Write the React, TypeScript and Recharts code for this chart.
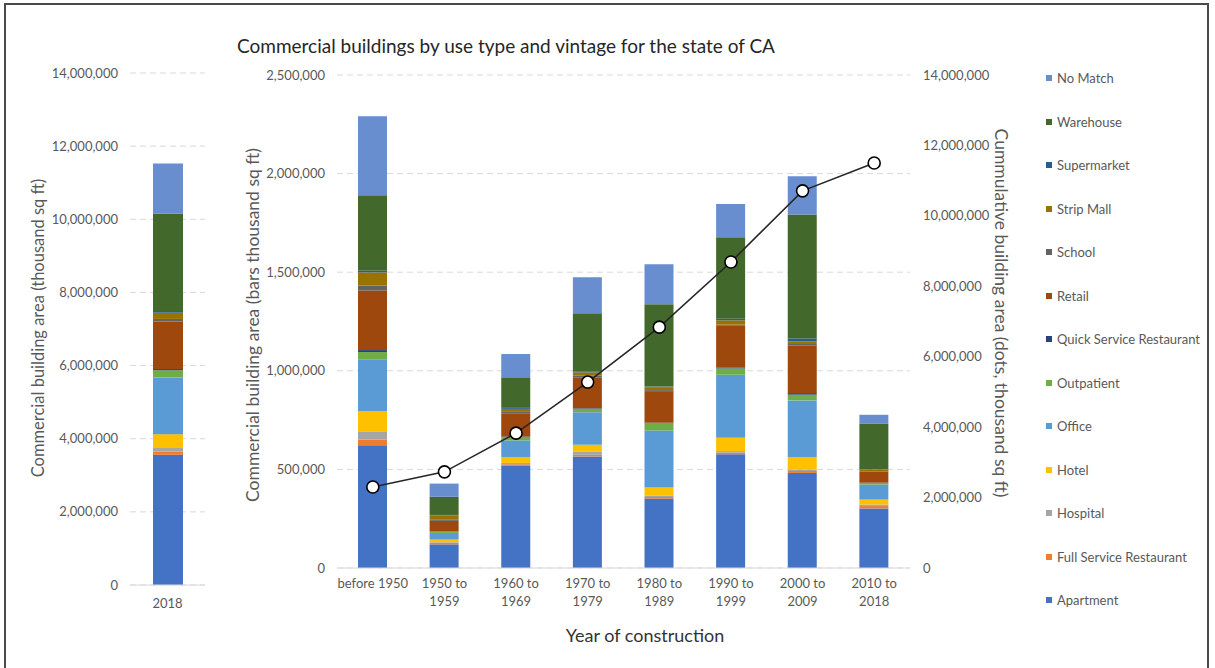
import React from 'react';
import {
  ComposedChart,
  BarChart,
  Bar,
  Line,
  XAxis,
  YAxis,
  CartesianGrid,
} from 'recharts';

// vintages (x categories of the main chart)
const vintages = [
  'before 1950',
  '1950 to 1959',
  '1960 to 1969',
  '1970 to 1979',
  '1980 to 1989',
  '1990 to 1999',
  '2000 to 2009',
  '2010 to 2018',
];

// use types, bottom of the stack first
const useTypes = [
  'Apartment',
  'Full Service Restaurant',
  'Hospital',
  'Hotel',
  'Office',
  'Outpatient',
  'Quick Service Restaurant',
  'Retail',
  'School',
  'Strip Mall',
  'Supermarket',
  'Warehouse',
  'No Match',
];

const useColors = [
  '#4472C4',
  '#ED7D31',
  '#A5A5A5',
  '#FFC000',
  '#5B9BD5',
  '#70AD47',
  '#264478',
  '#9E480E',
  '#636363',
  '#997300',
  '#255E91',
  '#43682B',
  '#698ED0',
];

// thousand sq ft, one value per vintage
const apartment = [622000, 120000, 518000, 566000, 352000, 577000, 482000, 302000];
const fullService = [29000, 8000, 8000, 8000, 8000, 8000, 10000, 12000];
const hospital = [39000, 3000, 7000, 17000, 8000, 8000, 7000, 8000];
const hotel = [106000, 13000, 30000, 34000, 42000, 67000, 64000, 25000];
const office = [260000, 34000, 84000, 165000, 287000, 320000, 287000, 76000];
const outpatient = [39000, 7000, 17000, 17000, 37000, 32000, 29000, 8000];
const quickService = [10000, 2000, 3000, 3000, 3000, 5000, 8000, 2000];
const retail = [302000, 52000, 115000, 157000, 160000, 214000, 241000, 56000];
const school = [25000, 8000, 13000, 8000, 5000, 3000, 8000, 3000];
const stripMall = [67000, 20000, 12000, 17000, 15000, 22000, 13000, 8000];
const supermarket = [8000, 2000, 5000, 5000, 3000, 8000, 15000, 2000];
const warehouse = [383000, 92000, 155000, 295000, 418000, 413000, 629000, 229000];
const noMatch = [401000, 67000, 118000, 182000, 202000, 169000, 194000, 46000];

// cumulative area (dots)
const cumulative = [2300000, 2730000, 3830000, 5280000, 6840000, 8690000, 10710000, 11500000];

// 2018 stock by use type (left chart), same order as useTypes
const stock2018 = [
  3560000, 90000, 95000, 380000, 1550000, 195000, 35000, 1300000, 70000, 170000, 50000, 2660000,
  1370000,
];

const mainTicks = [0, 500000, 1000000, 1500000, 2000000, 2500000];
const cumulTicks = [0, 2000000, 4000000, 6000000, 8000000, 10000000, 12000000, 14000000];

const seriesValues = [
  apartment,
  fullService,
  hospital,
  hotel,
  office,
  outpatient,
  quickService,
  retail,
  school,
  stripMall,
  supermarket,
  warehouse,
  noMatch,
];

const keyOf = (i: number) => `s${i}`;

const mainData = vintages.map((v, vi) => {
  const row: any = { vintage: v, cumulative: cumulative[vi] };
  seriesValues.forEach((vals, si) => {
    row[keyOf(si)] = vals[vi];
  });
  return row;
});

const leftRow: any = { year: '2018' };
stock2018.forEach((v, si) => {
  leftRow[keyOf(si)] = v;
});
const leftData = [leftRow];

const FONT = 'Lato, "Open Sans", sans-serif';
const TICK = { fill: '#595959', fontSize: 13, fontFamily: FONT };
const GRID = '#d9d9d9';

const fmt = (v: number) => v.toLocaleString('en-US');

const VintageTick = ({ x, y, payload }: any) => {
  const label: string = payload.value;
  const lines = label.includes(' to ')
    ? [label.split(' to ')[0] + ' to', label.split(' to ')[1]]
    : [label];
  return (
    <text x={x} y={y} textAnchor="middle" {...TICK}>
      {lines.map((l, i) => (
        <tspan key={i} x={x} dy={i === 0 ? '0.71em' : 18}>
          {l}
        </tspan>
      ))}
    </text>
  );
};

const rotated = (
  text: string,
  cx: number,
  cy: number,
  deg: number,
  size = 16,
  color = '#595959'
): React.ReactElement => (
  <div
    style={{
      position: 'absolute',
      left: cx,
      top: cy,
      transform: `translate(-50%, -50%) rotate(${deg}deg)`,
      whiteSpace: 'nowrap',
      fontFamily: FONT,
      fontSize: size,
      color,
    }}
  >
    {text}
  </div>
);

const App: React.FC = () => {
  return (
    <div
      style={{
        position: 'absolute',
        left: 0,
        top: 0,
        width: 1215,
        height: 668,
        overflow: 'hidden',
        background: '#fff',
      }}
    >
      {/* frame */}
      <div
        style={{
          position: 'absolute',
          left: 4,
          top: 3,
          width: 1205,
          height: 700,
          border: '2px solid #4a4a4a',
          boxSizing: 'border-box',
        }}
      />

      {/* title */}
      <div
        style={{
          position: 'absolute',
          left: 506,
          top: 45,
          transform: 'translate(-50%, -50%)',
          whiteSpace: 'nowrap',
          fontFamily: FONT,
          fontSize: 19,
          color: '#262626',
        }}
      >
        Commercial buildings by use type and vintage for the state of CA
      </div>

      {/* left chart: 2018 stock */}
      <div style={{ position: 'absolute', left: 0, top: 0 }}>
        <BarChart
          width={215}
          height={668}
          data={leftData}
          margin={{ top: 73, right: 10, bottom: 0, left: 0 }}
        >
          <CartesianGrid vertical={false} stroke={GRID} strokeDasharray="6 4" />
          <XAxis
            dataKey="year"
            height={83}
            tickLine={false}
            tickSize={0}
            tickMargin={14}
            axisLine={{ stroke: GRID }}
            tick={TICK}
          />
          <YAxis
            width={130}
            domain={[0, 14000000]}
            ticks={cumulTicks}
            tickFormatter={fmt}
            axisLine={false}
            tickLine={false}
            tickSize={0}
            tickMargin={12}
            tick={TICK}
          />
          {useTypes.map((name, si) => (
            <Bar
              key={name}
              dataKey={keyOf(si)}
              name={name}
              stackId="a"
              fill={useColors[si]}
              barSize={30}
              isAnimationActive={false}
            />
          ))}
        </BarChart>
      </div>
      {rotated('Commercial building area (thousand sq ft)', 38, 328, -90, 16.5)}

      {/* main chart: by vintage */}
      <div style={{ position: 'absolute', left: 220, top: 0 }}>
        <ComposedChart
          width={800}
          height={668}
          data={mainData}
          margin={{ top: 75, right: 0, bottom: 0, left: 0 }}
        >
          <CartesianGrid
            vertical={false}
            stroke={GRID}
            strokeDasharray="6 4"
            yAxisId="bars"
          />
          <XAxis
            dataKey="vintage"
            height={100}
            tickLine={false}
            tickSize={0}
            tickMargin={11}
            axisLine={{ stroke: GRID }}
            interval={0}
            tick={<VintageTick />}
          />
          <YAxis
            yAxisId="bars"
            width={117}
            domain={[0, 2500000]}
            ticks={mainTicks}
            tickFormatter={fmt}
            axisLine={false}
            tickLine={false}
            tickSize={0}
            tickMargin={12}
            tick={TICK}
          />
          <YAxis
            yAxisId="cumul"
            orientation="right"
            width={110}
            domain={[0, 14000000]}
            ticks={cumulTicks}
            tickFormatter={fmt}
            axisLine={false}
            tickLine={false}
            tickSize={0}
            tickMargin={13}
            tick={{ ...TICK, textAnchor: 'start' }}
          />
          {useTypes.map((name, si) => (
            <Bar
              key={name}
              yAxisId="bars"
              dataKey={keyOf(si)}
              name={name}
              stackId="v"
              fill={useColors[si]}
              barSize={29}
              isAnimationActive={false}
            />
          ))}
          <Line
            yAxisId="cumul"
            dataKey="cumulative"
            stroke="#262626"
            strokeWidth={1.6}
            dot={{ r: 6, fill: '#fff', stroke: '#000', strokeWidth: 1.6 }}
            isAnimationActive={false}
          />
        </ComposedChart>
      </div>
      {rotated('Commercial building area (bars thousand sq ft)', 252, 325, -90, 17.5)}
      {rotated('Cummulative building area (dots, thousand sq ft)', 1001, 313, 90, 17.5)}
      <div
        style={{
          position: 'absolute',
          left: 645,
          top: 635,
          transform: 'translate(-50%, -50%)',
          whiteSpace: 'nowrap',
          fontFamily: FONT,
          fontSize: 18,
          color: '#333333',
        }}
      >
        Year of construction
      </div>

      {/* legend, top of the stack first */}
      {useTypes
        .map((name, si) => ({ name, color: useColors[si] }))
        .reverse()
        .map((item, i) => (
          <div
            key={item.name}
            style={{
              position: 'absolute',
              left: 1046,
              top: 78 + i * 43.5,
              transform: 'translateY(-50%)',
              display: 'flex',
              alignItems: 'center',
              whiteSpace: 'nowrap',
              fontFamily: FONT,
              fontSize: 13,
              color: '#595959',
            }}
          >
            <span
              style={{
                display: 'inline-block',
                width: 6,
                height: 6,
                background: item.color,
                marginRight: 5,
              }}
            />
            {item.name}
          </div>
        ))}
    </div>
  );
};

export default App;
